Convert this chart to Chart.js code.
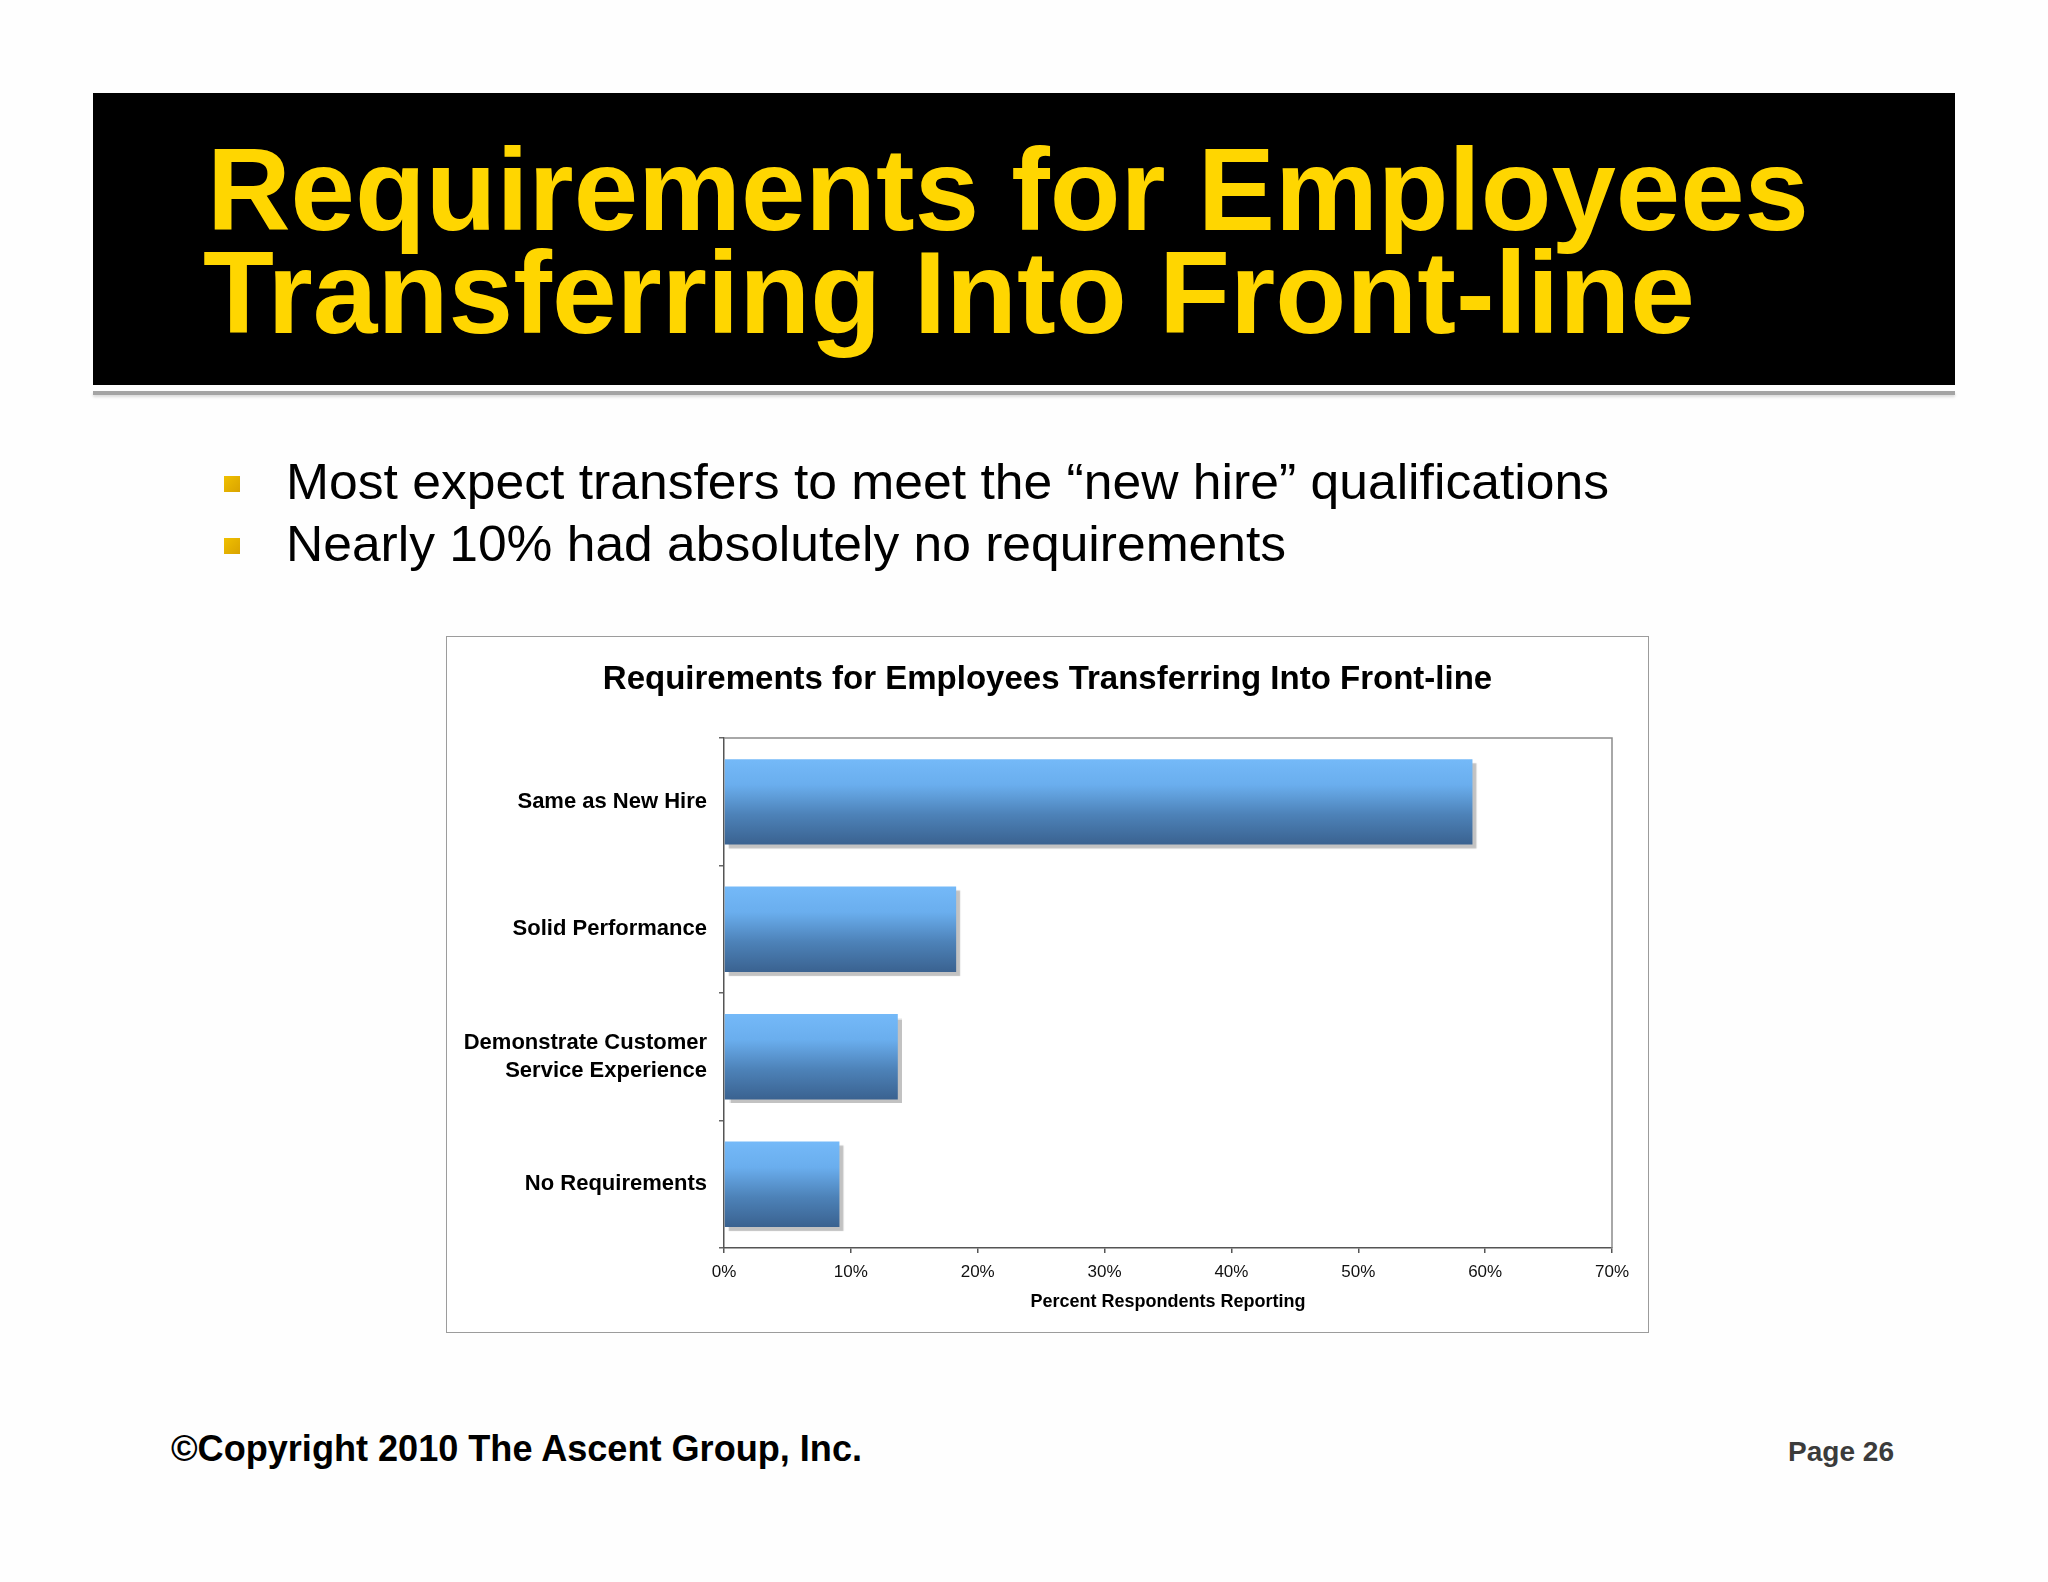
<!DOCTYPE html>
<html>
<head>
<meta charset="utf-8">
<script src="https://cdn.jsdelivr.net/npm/chart.js@4.4.1/dist/chart.umd.min.js"></script>
<style>
  html, body { margin: 0; padding: 0; background: #fefefe; }
  body { width: 2048px; height: 1582px; position: relative; overflow: hidden;
         font-family: "Liberation Sans", Arial, sans-serif; }
  .abs { position: absolute; white-space: nowrap; line-height: 1; }
  .fit { display: inline-block; transform-origin: 0 0; }
  #banner { position: absolute; left: 93px; top: 93px; width: 1862px; height: 292px; background: #000; }
  #bannerLine { position: absolute; left: 93px; top: 391px; width: 1862px; height: 4px;
                background: #a4a4a4; box-shadow: 0 2px 3px rgba(0,0,0,0.15); }
  .head { color: #ffd600; font-weight: bold; font-size: 116px; }
  .bullet { font-size: 50px; color: #000; }
  .sq { position: absolute; width: 16px; height: 16px;
        background: linear-gradient(135deg, #f0c000, #d9a300); }
  #chartBox { position: absolute; left: 446px; top: 636px; border: 1px solid #9c9c9c; background: #fff; }
  #chartBox canvas { display: block; }
</style>
</head>
<body>
<div id="banner"></div>
<div id="bannerLine"></div>
<div class="abs head" style="left:207px; top:132px;"><span class="fit" data-w="1602">Requirements for Employees</span></div>
<div class="abs head" style="left:203px; top:235px;"><span class="fit" data-w="1492">Transferring Into Front-line</span></div>

<div class="sq" style="left:224px; top:476px;"></div>
<div class="sq" style="left:224px; top:538px;"></div>
<div class="abs bullet" style="left:286px; top:457px;"><span class="fit" data-w="1323">Most expect transfers to meet the “new hire” qualifications</span></div>
<div class="abs bullet" style="left:286px; top:519px;"><span class="fit" data-w="1000">Nearly 10% had absolutely no requirements</span></div>

<div id="chartBox"><canvas id="chart" width="1201" height="695"></canvas></div>

<div class="abs" style="left:171px; top:1431px; font-size:36px; font-weight:bold; font-family:'Liberation Sans Narrow','Arial Narrow','Liberation Sans',sans-serif;"><span class="fit" data-w="691">©Copyright 2010 The Ascent Group, Inc.</span></div>
<div class="abs" style="left:1788px; top:1438px; font-size:28px; font-weight:bold; color:#3b3b3b;"><span class="fit" data-w="106">Page 26</span></div>

<script>
const chartTitle = "Requirements for Employees Transferring Into Front-line";
const categories = [
  "Same as New Hire",
  "Solid Performance",
  ["Demonstrate Customer", "Service Experience"],
  "No Requirements"
];
const percentValues = [59.0, 18.3, 13.7, 9.1];
const xTicks = [0, 10, 20, 30, 40, 50, 60, 70];
const xAxisTitle = "Percent Respondents Reporting";

const BAR_SHARE = 0.67;

function fitAll() {
  document.querySelectorAll(".fit").forEach(el => {
    const target = parseFloat(el.dataset.w);
    const w = el.getBoundingClientRect().width;
    if (w > 0) el.style.transform = "scaleX(" + (target / w) + ")";
  });
}

function barGradient(ctx) {
  const chart = ctx.chart;
  const y = chart.scales.y;
  if (!chart.chartArea || !y) return "#5a9ad6";
  const centre = y.getPixelForValue(ctx.dataIndex);
  const half = (y.height / categories.length) * BAR_SHARE / 2;
  const g = chart.ctx.createLinearGradient(0, centre - half, 0, centre + half);
  g.addColorStop(0, "#74b9f8");
  g.addColorStop(0.3, "#6aaeee");
  g.addColorStop(0.65, "#4d82b8");
  g.addColorStop(1, "#3a6290");
  return g;
}

const shadowPlugin = {
  id: "barShadow",
  beforeDatasetsDraw(chart) {
    const c = chart.ctx;
    c.save();
    c.shadowColor = "rgba(0,0,0,0.24)";
    c.shadowOffsetX = 4;
    c.shadowOffsetY = 4;
    c.shadowBlur = 1;
  },
  afterDatasetsDraw(chart) {
    chart.ctx.restore();
  }
};

const framePlugin = {
  id: "plotFrame",
  afterDraw(chart) {
    const { left, top, right, bottom } = chart.chartArea;
    const c = chart.ctx;
    c.save();
    c.strokeStyle = "#8c8c8c";
    c.lineWidth = 1.5;
    c.beginPath();
    c.moveTo(left, top);
    c.lineTo(right, top);
    c.lineTo(right, bottom);
    c.stroke();
    c.restore();
  }
};

function draw() {
  Chart.defaults.font.family = "'Liberation Sans', Arial, sans-serif";
  Chart.defaults.color = "#000";

  new Chart(document.getElementById("chart").getContext("2d"), {
    type: "bar",
    data: {
      labels: categories,
      datasets: [{
        data: percentValues,
        backgroundColor: barGradient,
        borderWidth: 0,
        categoryPercentage: 1,
        barPercentage: BAR_SHARE
      }]
    },
    plugins: [shadowPlugin, framePlugin],
    options: {
      indexAxis: "y",
      responsive: false,
      animation: false,
      devicePixelRatio: 1,
      layout: { padding: 0 },
      plugins: {
        legend: { display: false },
        tooltip: { enabled: false },
        title: {
          display: true,
          text: chartTitle,
          color: "#000",
          font: { size: 33, weight: "bold" },
          padding: { top: 23.5, bottom: 38 }
        }
      },
      scales: {
        x: {
          type: "linear",
          min: xTicks[0],
          max: xTicks[xTicks.length - 1],
          afterBuildTicks(scale) {
            scale.ticks = xTicks.map(v => ({ value: v }));
          },
          afterFit(scale) { scale.height = 84; },
          ticks: {
            callback: v => v + "%",
            font: { size: 17 },
            color: "#111",
            padding: 9
          },
          grid: { drawOnChartArea: false, tickLength: 5, color: "#555", lineWidth: 1.5 },
          border: { color: "#555", width: 1.5 },
          title: {
            display: true,
            text: xAxisTitle,
            color: "#000",
            font: { size: 18, weight: "bold" },
            padding: { top: 19, bottom: 19 }
          }
        },
        y: {
          type: "category",
          offset: true,
          afterFit(scale) { scale.width = 277; },
          ticks: {
            font: { size: 22, weight: "bold", lineHeight: 1.3 },
            color: "#000",
            padding: 12
          },
          grid: { offset: true, drawOnChartArea: false, tickLength: 5, color: "#666", lineWidth: 1.5 },
          border: { color: "#555", width: 1.5 }
        },
        // empty right-hand gutter, so the title stays centred on the whole box
        gutter: {
          axis: "y",
          type: "linear",
          position: "right",
          afterFit(scale) { scale.width = 36; },
          ticks: { display: false },
          grid: { display: false },
          border: { display: false }
        }
      }
    }
  });
}

document.fonts.ready.then(() => {
  fitAll();
  draw();
});
</script>
</body>
</html>
